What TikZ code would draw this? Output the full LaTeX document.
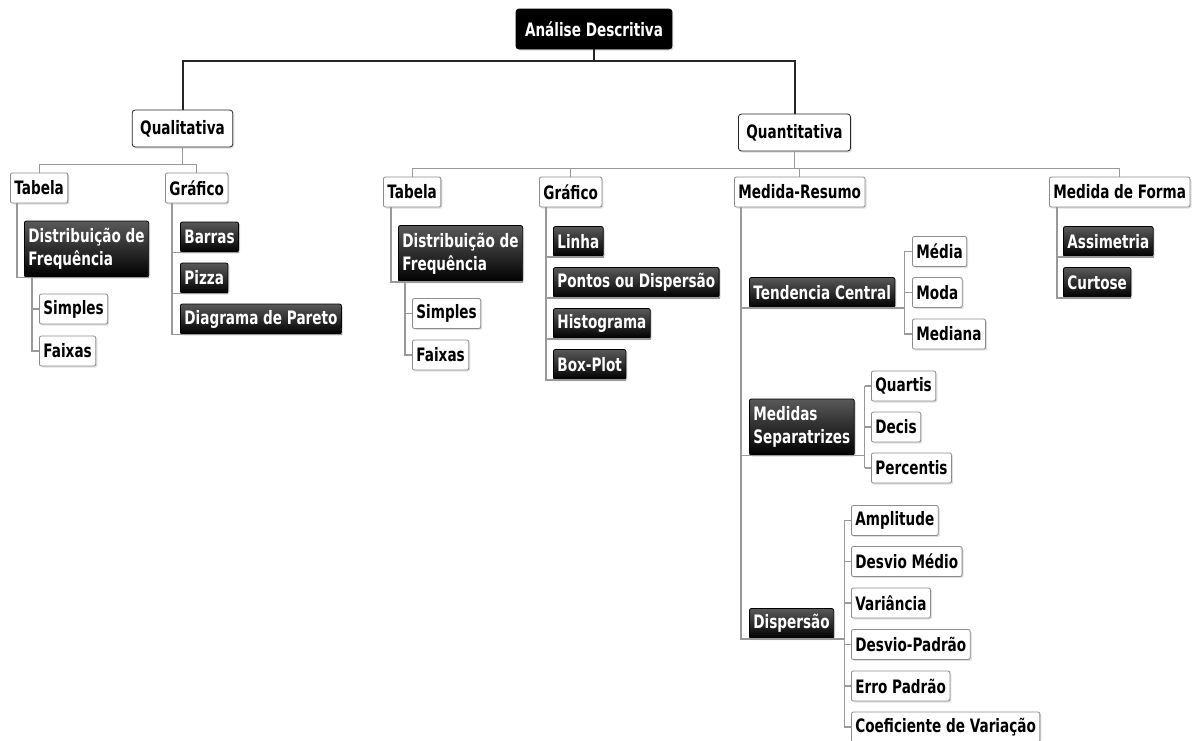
\documentclass[tikz,border=0pt]{standalone}
\usepackage{fontspec}
\setmainfont{DejaVu Sans}[FakeStretch=0.735]
\usetikzlibrary{shadows}

\tikzset{
    topic/.style={draw=black!45, fill=white, rounded corners=2pt, line width=0.8pt,
        font=\bfseries\fontsize{18.5}{23}\selectfont, inner xsep=4pt, inner ysep=3pt,
        minimum height=30pt, anchor=west, align=left,
        drop shadow={shadow xshift=1.5pt, shadow yshift=-1.5pt, opacity=0.25}},
    darktopic/.style={topic, draw=black, top color=black!65, bottom color=black, text=white},
    roottopic/.style={topic, draw=black, fill=black, text=white, rounded corners=3pt,
        inner xsep=9pt, minimum height=40pt, anchor=center},
    maintopic/.style={topic, draw=black!85, rounded corners=3pt, inner xsep=8pt,
        minimum height=37pt, anchor=center},
    mainline/.style={line width=2pt, black!85},
    subline/.style={line width=1.2pt, black!40}
}

\begin{document}
\begin{tikzpicture}[x=1pt,y=-1pt]
    \useasboundingbox (0,0) rectangle (1192,740);
    \clip (0,0) rectangle (1192,740);
    \fill[white] (0,0) rectangle (1192,740);

    \node[roottopic] (root) at (594,29) {Análise Descritiva};
    \node[maintopic] (quali) at (182.5,128.5) {Qualitativa};
    \node[maintopic] (quanti) at (794.5,132.5) {Quantitativa};

    % qualitativa
    \node[topic] (tabA) at (10,188) {Tabela};
    \node[topic] (grafA) at (165,188) {Gráfico};
    \node[darktopic, minimum height=56pt] (distA) at (24,249) {Distribuição de\\Frequência};
    \node[topic] (simA) at (39,309) {Simples};
    \node[topic] (faiA) at (39,351) {Faixas};
    \node[darktopic] (barA) at (180,237) {Barras};
    \node[darktopic] (pizA) at (180,278) {Pizza};
    \node[darktopic] (parA) at (180,319) {Diagrama de Pareto};

    % quantitativa
    \node[topic] (tabB) at (383,192) {Tabela};
    \node[topic] (grafB) at (539,192) {Gráfico};
    \node[topic] (medR) at (734,192) {Medida-Resumo};
    \node[topic] (medF) at (1049,192) {Medida de Forma};
    \node[darktopic, minimum height=56pt] (distB) at (398,253.5) {Distribuição de\\Frequência};
    \node[topic] (simB) at (412,313.5) {Simples};
    \node[topic] (faiB) at (412,355) {Faixas};
    \node[darktopic] (linB) at (553,241.5) {Linha};
    \node[darktopic] (ponB) at (553,282.5) {Pontos ou Dispersão};
    \node[darktopic] (hisB) at (553,323.5) {Histograma};
    \node[darktopic] (boxB) at (553,364.5) {Box-Plot};

    \node[darktopic] (tenC) at (749,292.5) {Tendencia Central};
    \node[topic] (media) at (912,251.5) {Média};
    \node[topic] (moda) at (912,292.5) {Moda};
    \node[topic] (mediana) at (912,334) {Mediana};
    \node[darktopic, minimum height=56pt] (sepM) at (749,427) {Medidas\\Separatrizes};
    \node[topic] (quartis) at (871,386) {Quartis};
    \node[topic] (decis) at (871,427) {Decis};
    \node[topic] (percentis) at (871,468) {Percentis};
    \node[darktopic] (disp) at (749,623.5) {Dispersão};
    \node[topic] (ampl) at (851,520.5) {Amplitude};
    \node[topic] (dmed) at (851,561.5) {Desvio Médio};
    \node[topic] (vari) at (851,603) {Variância};
    \node[topic] (dpad) at (851,644.5) {Desvio-Padrão};
    \node[topic] (erro) at (851,686) {Erro Padrão};
    \node[topic] (coef) at (851,727) {Coeficiente de Variação};
    \node[darktopic] (assim) at (1063,241.5) {Assimetria};
    \node[darktopic] (curt) at (1063,282.5) {Curtose};

    % ligacoes
    \draw[mainline] (root.south) -- ++(0,12) coordinate (bus0);
    \draw[mainline] (quali.north) |- (bus0) -| (quanti.north);

    \draw[subline] (quali.south) -- ++(0,17) coordinate (busA);
    \draw[subline] (tabA.north) |- (busA) -| (grafA.north);
    \draw[subline] (quanti.south) -- ++(0,17) coordinate (busB);
    \draw[subline] (tabB.north) |- (busB) -| (medF.north);
    \draw[subline] (grafB.north) -- (grafB.north |- busB);
    \draw[subline] (medR.north) -- (medR.north |- busB);

    \draw[subline] ([xshift=7pt]tabA.south west) |- (distA.south west) -- (distA.south east);
    \draw[subline] ([xshift=8pt]distA.south west) coordinate (dA) |- (faiA.west);
    \draw[subline] (dA |- simA.west) -- (simA.west);
    \draw[subline] ([xshift=7pt]grafA.south west) coordinate (gA) |- (parA.south west) -- (parA.south east);
    \foreach \n in {barA,pizA}
        \draw[subline] (gA |- \n.south west) -- (\n.south east);

    \draw[subline] ([xshift=8pt]tabB.south west) |- (distB.south west) -- (distB.south east);
    \draw[subline] ([xshift=7pt]distB.south west) coordinate (dB) |- (faiB.west);
    \draw[subline] (dB |- simB.west) -- (simB.west);
    \draw[subline] ([xshift=7pt]grafB.south west) coordinate (gB) |- (boxB.south west) -- (boxB.south east);
    \foreach \n in {linB,ponB,hisB}
        \draw[subline] (gB |- \n.south west) -- (\n.south east);

    \draw[subline] ([xshift=7pt]medR.south west) coordinate (mR) |- (disp.south west) -- (disp.south east);
    \foreach \n in {tenC,sepM}
        \draw[subline] (mR |- \n.south west) -- (\n.south east);
    \draw[subline] (tenC.south east) -- ++(9,0) coordinate (tC);
    \draw[subline] (tC |- media.west) -- (tC |- mediana.west);
    \foreach \n in {media,moda,mediana}
        \draw[subline] (tC |- \n.west) -- (\n.west);
    \draw[subline] (sepM.south east) -- ++(10,0) coordinate (sM);
    \draw[subline] (sM |- quartis.west) -- (sM |- percentis.west);
    \foreach \n in {quartis,decis,percentis}
        \draw[subline] (sM |- \n.west) -- (\n.west);
    \draw[subline] (disp.south east) -- ++(10,0) coordinate (dS);
    \draw[subline] (dS |- ampl.west) -- (dS |- coef.west);
    \foreach \n in {ampl,dmed,vari,dpad,erro,coef}
        \draw[subline] (dS |- \n.west) -- (\n.west);

    \draw[subline] ([xshift=8pt]medF.south west) coordinate (mF) |- (curt.south west) -- (curt.south east);
    \draw[subline] (mF |- assim.south west) -- (assim.south east);
\end{tikzpicture}
\end{document}
